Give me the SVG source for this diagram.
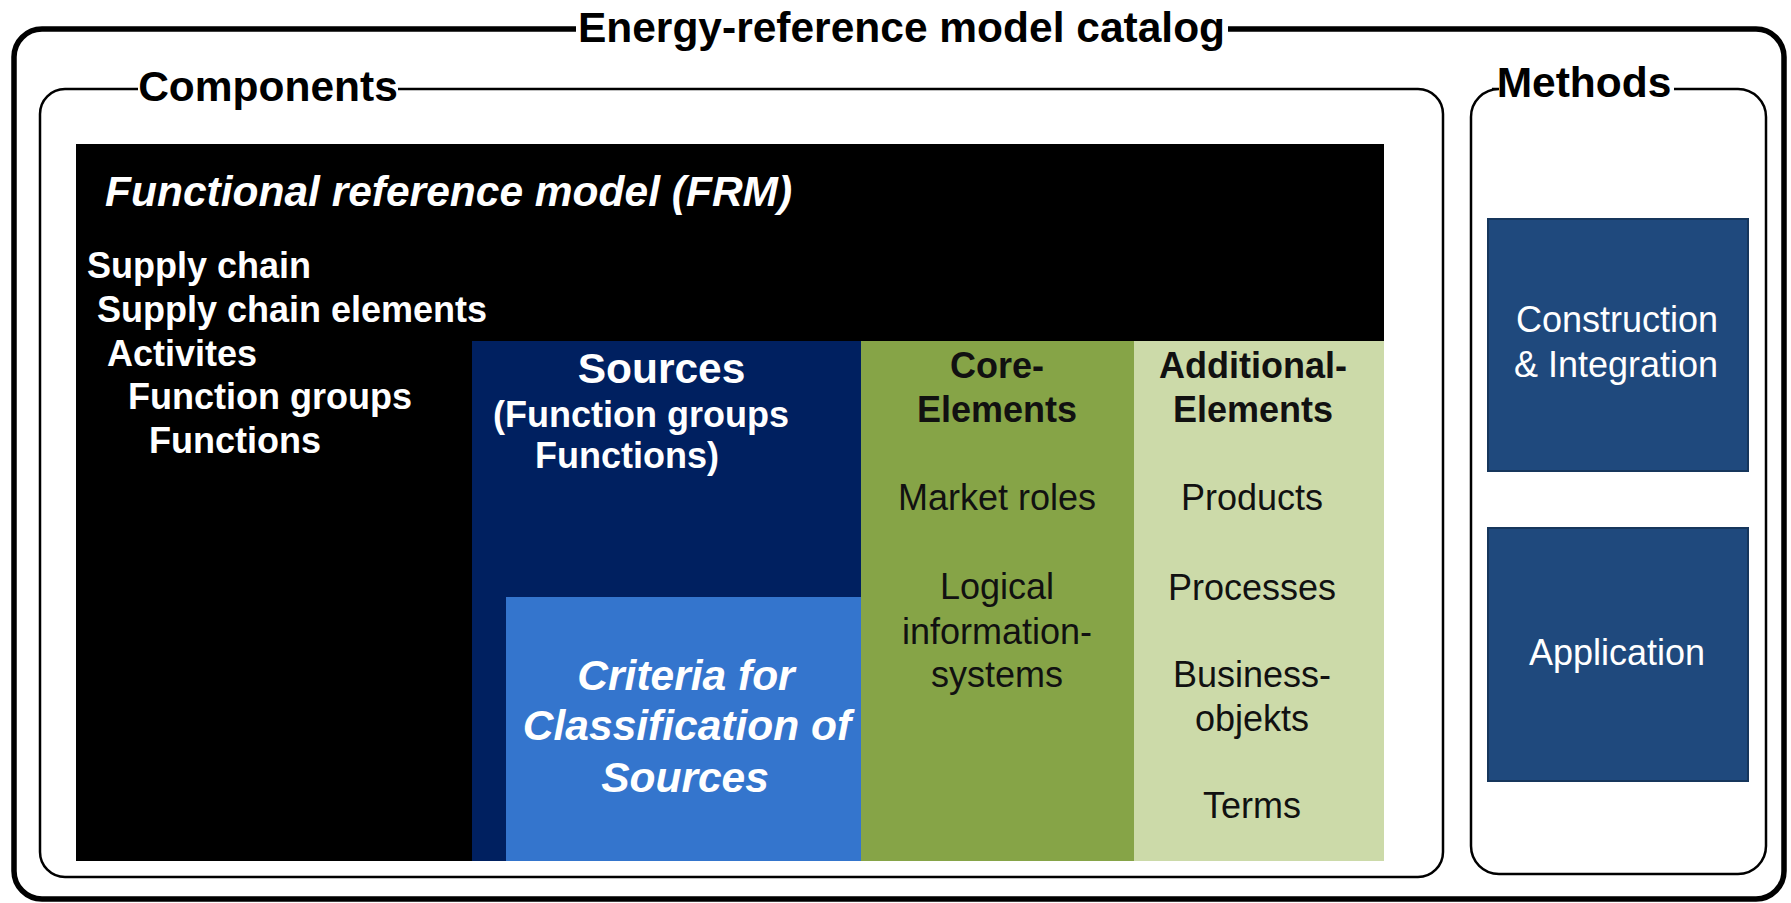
<svg xmlns="http://www.w3.org/2000/svg" width="1791" height="903" viewBox="0 0 1791 903">
<style>
text{font-family:"Liberation Sans",Arial,sans-serif}
.frame{fill:none;stroke:#000}
.hd{font-size:42.5px;font-weight:bold;fill:#000;text-anchor:middle}
.wb{font-size:36px;font-weight:bold;fill:#fff}
.wbi{font-size:42.5px;font-weight:bold;font-style:italic;fill:#fff}
.db{font-size:36px;font-weight:bold;fill:#111;text-anchor:middle}
.dr{font-size:36px;fill:#111;text-anchor:middle}
.wr{font-size:36px;fill:#fff;text-anchor:middle}
.mbox{fill:#1F497D;stroke:#16365C;stroke-width:2}
</style>
<rect x="0" y="0" width="1791" height="903" fill="#fff"/>
<g id="catalog">
<path class="frame" stroke-width="5.5" d="M1228,29 H1756 A28,28 0 0 1 1784,57 V871 A28,28 0 0 1 1756,899 H42 A28,28 0 0 1 14,871 V57 A28,28 0 0 1 42,29 H576"/>
<text class="hd" x="901.5" y="42">Energy-reference model catalog</text>
</g>
<g id="components">
<path class="frame" stroke-width="2.5" d="M398,89 H1418 A25,25 0 0 1 1443,114 V852 A25,25 0 0 1 1418,877 H65 A25,25 0 0 1 40,852 V114 A25,25 0 0 1 65,89 H138"/>
<text class="hd" x="268" y="101">Components</text>
</g>
<g id="frm">
<rect x="76" y="144" width="1308" height="717" fill="#000"/>
<text class="wbi" x="105" y="206">Functional reference model (FRM)</text>
<text class="wb" x="87" y="278">Supply chain</text>
<text class="wb" x="97" y="322">Supply chain elements</text>
<text class="wb" x="107" y="366">Activites</text>
<text class="wb" x="128" y="409">Function groups</text>
<text class="wb" x="149" y="453">Functions</text>
</g>
<g id="sources">
<rect x="472" y="341" width="389" height="520" fill="#002060"/>
<text class="wb" x="661.5" y="383" text-anchor="middle" style="font-size:42.5px">Sources</text>
<text class="wb" x="493" y="427">(Function groups</text>
<text class="wb" x="535" y="468">Functions)</text>
</g>
<g id="criteria">
<rect x="506" y="597" width="355" height="264" fill="#3475CD"/>
<text class="wbi" x="686" y="690" text-anchor="middle">Criteria for</text>
<text class="wbi" x="687" y="740" text-anchor="middle">Classification of</text>
<text class="wbi" x="685" y="792" text-anchor="middle">Sources</text>
</g>
<g id="core">
<rect x="861" y="341" width="273" height="520" fill="#86A447"/>
<text class="db" x="997" y="378">Core-</text>
<text class="db" x="997" y="422">Elements</text>
<text class="dr" x="997" y="510">Market roles</text>
<text class="dr" x="997" y="599">Logical</text>
<text class="dr" x="997" y="644">information-</text>
<text class="dr" x="997" y="687">systems</text>
</g>
<g id="additional">
<rect x="1134" y="341" width="250" height="520" fill="#CCDAA9"/>
<text class="db" x="1253" y="378">Additional-</text>
<text class="db" x="1253" y="422">Elements</text>
<text class="dr" x="1252" y="510">Products</text>
<text class="dr" x="1252" y="600">Processes</text>
<text class="dr" x="1252" y="687">Business-</text>
<text class="dr" x="1252" y="731">objekts</text>
<text class="dr" x="1252" y="818">Terms</text>
</g>
<g id="methods">
<path class="frame" stroke-width="2.5" d="M1674,89 H1738 A28,28 0 0 1 1766,117 V846 A28,28 0 0 1 1738,874 H1499 A28,28 0 0 1 1471,846 V117 A28,28 0 0 1 1499,89 H1492"/>
<text class="hd" x="1584" y="97">Methods</text>
</g>
<g id="construction">
<rect class="mbox" x="1488" y="219" width="260" height="252"/>
<text class="wr" x="1617" y="332">Construction</text>
<text class="wr" x="1616" y="377">&amp; Integration</text>
</g>
<g id="application">
<rect class="mbox" x="1488" y="528" width="260" height="253"/>
<text class="wr" x="1617" y="665">Application</text>
</g>
<g id="connectors"></g>
</svg>
